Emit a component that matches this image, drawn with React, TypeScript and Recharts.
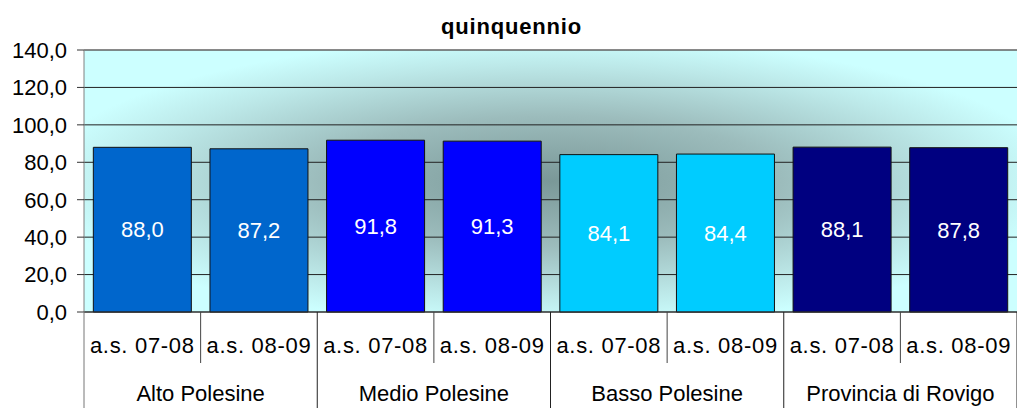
import { BarChart, Bar, XAxis, YAxis, CartesianGrid, Cell, LabelList, ReferenceLine } from 'recharts'

const anni = ['a.s. 07-08', 'a.s. 08-09', 'a.s. 07-08', 'a.s. 08-09', 'a.s. 07-08', 'a.s. 08-09', 'a.s. 07-08', 'a.s. 08-09']
const gruppi = ['Alto Polesine', 'Alto Polesine', 'Medio Polesine', 'Medio Polesine', 'Basso Polesine', 'Basso Polesine', 'Provincia di Rovigo', 'Provincia di Rovigo']
const valori = [88.0, 87.2, 91.8, 91.3, 84.1, 84.4, 88.1, 87.8]
const tickY = [0, 20, 40, 60, 80, 100, 120, 140]

const COLORE_GRUPPO: Record<string, string> = {
  'Alto Polesine': '#0066cc',
  'Medio Polesine': '#0000ff',
  'Basso Polesine': '#00ccff',
  'Provincia di Rovigo': '#000080',
}

const W = 1017
const H = 408
const LEFT = 84
const BOTTOM = 312
const BAND = (W - LEFT) / anni.length
const FONT = '"Liberation Sans", Arial, sans-serif'

const datos = anni.map((a, i) => ({ anno: a, gruppo: gruppi[i], valore: valori[i] }))

const virgola = (v: number) => v.toFixed(1).replace('.', ',')

// etichette del primo livello (anno scolastico) + separatori dentro il gruppo
function TickAnno(props: any) {
  const { x, payload } = props
  const i = payload.index
  return (
    <g>
      <text x={x} y={353} textAnchor="middle" fontSize={22} letterSpacing={0.7} fill="#000">
        {payload.value}
      </text>
      {i % 2 === 0 && (
        <line x1={x + BAND / 2} x2={x + BAND / 2} y1={BOTTOM} y2={363} stroke="#444" />
      )}
    </g>
  )
}

// secondo livello: nome dell'area
function TickGruppo(props: any) {
  const { x, payload } = props
  return (
    <g>
      <text x={x} y={401} textAnchor="middle" fontSize={22} fill="#000">
        {payload.value}
      </text>
      {payload.index === 0 && (
        <line x1={x - BAND} x2={x - BAND} y1={BOTTOM} y2={H} stroke="#777" />
      )}
      <line x1={x + BAND} x2={x + BAND} y1={BOTTOM} y2={H} stroke="#222" />
    </g>
  )
}

export default function App() {
  return (
    <div style={{ position: 'absolute', left: 0, top: 0, width: W, height: H, fontFamily: FONT, background: '#fff' }}>
      <div
        style={{
          position: 'absolute',
          left: 0,
          top: 16,
          width: 1023,
          textAlign: 'center',
          fontSize: 22,
          lineHeight: '22px',
          fontWeight: 'bold',
          letterSpacing: 0.8,
        }}
      >
        quinquennio
      </div>
      <BarChart
        width={W}
        height={H}
        data={datos}
        margin={{ top: 50, right: 0, bottom: 0, left: 0 }}
        barCategoryGap="8%"
      >
        <defs>
          <radialGradient id="sfondo" cx="0.5" cy="0.5" r="0.55" gradientUnits="objectBoundingBox">
            <stop offset="0" stopColor="#7a9898" />
            <stop offset="0.45" stopColor="#9cbcbc" />
            <stop offset="0.8" stopColor="#bce8e8" />
            <stop offset="1" stopColor="#ccffff" />
          </radialGradient>
        </defs>
        <CartesianGrid vertical={false} stroke="#222" fill="url(#sfondo)" fillOpacity={1} />
        <XAxis
          dataKey="anno"
          height={50}
          axisLine={{ stroke: '#333' }}
          tickLine={false}
          interval={0}
          tick={<TickAnno />}
        />
        <XAxis
          dataKey="gruppo"
          xAxisId="gruppo"
          allowDuplicatedCategory={false}
          height={46}
          axisLine={false}
          tickLine={false}
          interval={0}
          tick={<TickGruppo />}
        />
        <YAxis
          width={LEFT}
          domain={[0, 140]}
          ticks={tickY}
          tickFormatter={virgola}
          tick={{ fontSize: 22, fill: '#000' }}
          tickSize={7}
          tickMargin={10}
          axisLine={{ stroke: '#808080' }}
          tickLine={{ stroke: '#333' }}
        />
        <ReferenceLine y={140} stroke="#808080" />
        <Bar dataKey="valore" stroke="#111" strokeWidth={1} isAnimationActive={false}>
          {datos.map((d, i) => (
            <Cell key={i} fill={COLORE_GRUPPO[d.gruppo]} />
          ))}
          <LabelList dataKey="valore" position="center" fill="#fff" fontSize={22} formatter={(v: any) => virgola(Number(v))} />
        </Bar>
      </BarChart>
    </div>
  )
}
